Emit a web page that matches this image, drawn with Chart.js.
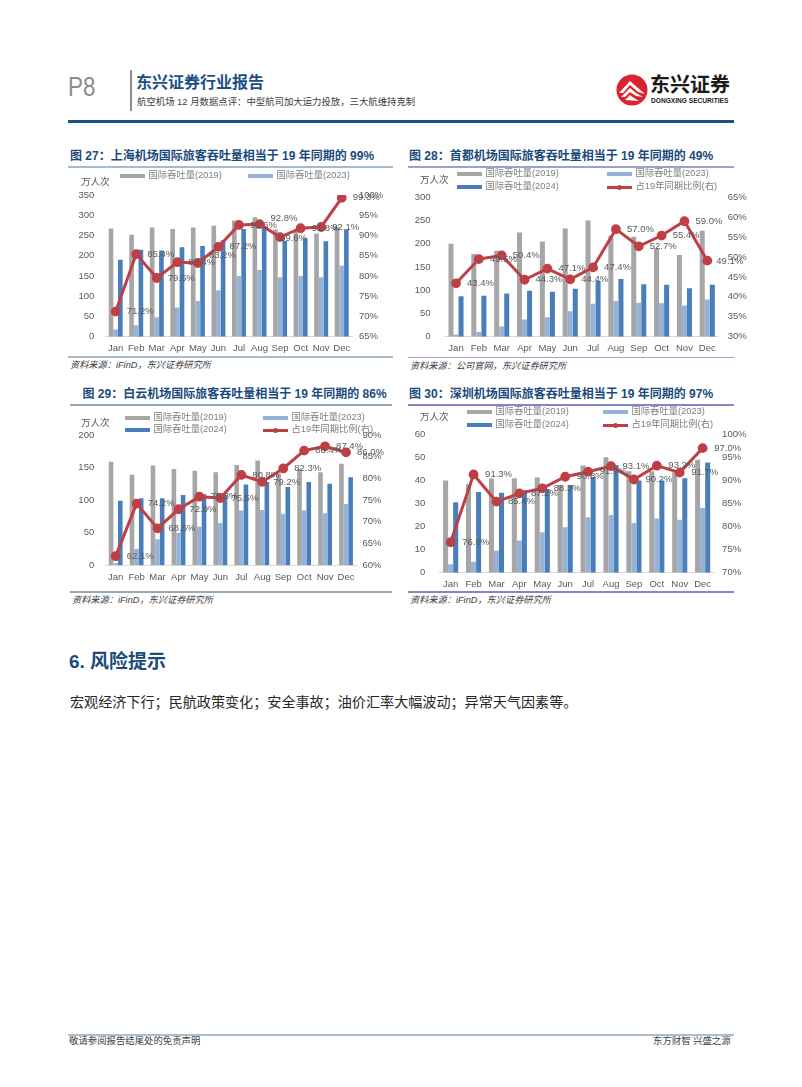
<!DOCTYPE html>
<html lang="zh">
<head>
<meta charset="utf-8">
<title>P8</title>
<script src="https://cdn.jsdelivr.net/npm/chart.js@4"></script>
<style>
  html, body { margin: 0; padding: 0; background: #fff; }
  #page { position: relative; width: 802px; height: 1087px; overflow: hidden;
          font-family: "Liberation Sans", "Noto Sans CJK SC", sans-serif; }
  #page > * { position: absolute; }
  .txt { white-space: pre; line-height: 1; transform: translateY(-50%); }
  .figTitle { font-size: 12px; font-weight: bold; color: #1b4a7d; }
  .source { font-size: 9.2px; font-style: italic; color: #404040; }
  .legend { font-size: 9.3px; color: #7f7f7f; }
  .unit { font-size: 9.5px; color: #595959; }
</style>
</head>
<body>
<div id="page"></div>
<script>
// 1. Shared labels
const months = ['Jan', 'Feb', 'Mar', 'Apr', 'May', 'Jun', 'Jul', 'Aug', 'Sep', 'Oct', 'Nov', 'Dec'];
const legendNames = ['国际吞吐量(2019)', '国际吞吐量(2023)', '国际吞吐量(2024)', '占19年同期比例(右)'];

// 2. Values
// Shanghai
const sh2019 = [267, 252, 270, 266, 270, 274, 287, 295, 265, 260, 255, 270];
const sh2023 = [18, 28, 48, 72, 88, 115, 150, 165, 147, 150, 147, 175];
const sh2024 = [190, 215, 213, 221, 224, 238, 266, 273, 237, 243, 236, 265];
const shRatio = [71.2, 85.4, 79.5, 83.4, 83.2, 87.2, 92.6, 92.8, 89.6, 91.8, 92.1, 99.3];
// Beijing Capital
const bj2019 = [200, 178, 185, 224, 205, 233, 250, 217, 215, 190, 176, 228];
const bj2023 = [5, 10, 22, 37, 42, 55, 71, 77, 73, 72, 67, 80];
const bj2024 = [87, 88, 93, 99, 97, 103, 120, 124, 113, 112, 104, 112];
const bjRatio = [43.4, 49.5, 50.4, 44.3, 47.1, 44.4, 47.4, 57.0, 52.7, 55.4, 59.0, 49.1];
// Guangzhou Baiyun
const gz2019 = [159, 139, 153, 148, 145, 143, 154, 161, 141, 148, 143, 156];
const gz2023 = [3, 25, 40, 50, 59, 65, 84, 85, 79, 84, 80, 94];
const gz2024 = [99, 103, 103, 108, 109, 108, 124, 128, 120, 128, 125, 135];
const gzRatio = [62.1, 74.2, 68.5, 72.9, 75.8, 75.5, 80.8, 79.2, 82.3, 86.4, 87.4, 86.0];
// Shenzhen
const sz2019 = [40, 38.5, 40.8, 41, 41.3, 38, 46.5, 50, 44, 44, 43.5, 49];
const sz2023 = [3.7, 4.8, 9.5, 14, 17.5, 19.7, 24, 25, 21.5, 23.5, 23, 28];
const sz2024 = [30.5, 35, 34.7, 35.7, 36.3, 38, 41.5, 46.7, 40, 40, 41, 47.8];
const szRatio = [76.6, 91.3, 85.4, 87.2, 88.3, 90.8, 91.9, 93.1, 90.2, 93.2, 91.7, 97.0];

// 3. Colours
const GREY = '#a6a6a6', LIGHT = '#95b3d7', BLUE = '#4a7ebb', RED = '#bf3f46', TICK = '#595959';
const TICK_FONT = { size: 9.5, family: 'Liberation Sans' };
const page = document.getElementById('page');

function addText(text, x, y, cls, style) {
    const el = document.createElement('div');
    el.className = 'txt ' + (cls || '');
    el.textContent = text;
    el.style.left = x + 'px';
    el.style.top = y + 'px';
    Object.assign(el.style, style || {});
    page.appendChild(el);
    return el;
}

function addBox(x, y, w, h, color) {
    const el = document.createElement('div');
    el.style.cssText = `left:${x}px;top:${y}px;width:${w}px;height:${h}px;background:${color}`;
    page.appendChild(el);
    return el;
}

// 4. Labels sit right of each point, a few were moved by hand in the source chart
const pointLabels = {
    id: 'pointLabels',
    afterDatasetsDraw(chart, args, opts) {
        const ctx = chart.ctx;
        const lineIndex = chart.data.datasets.findIndex(d => d.type === 'line');
        const meta = chart.getDatasetMeta(lineIndex);
        const values = chart.data.datasets[lineIndex].data;
        ctx.save();
        ctx.font = '9.5px "Liberation Sans"';
        ctx.fillStyle = TICK;
        ctx.textAlign = 'center';
        ctx.textBaseline = 'middle';
        meta.data.forEach((pt, i) => {
            const nudge = (opts.nudge || {})[i] || [0, 0];
            ctx.fillText(values[i].toFixed(1) + '%', pt.x + opts.dx + nudge[0], pt.y + nudge[1]);
        });
        ctx.restore();
    }
};

function drawFigure(fig) {
    const cv = document.createElement('canvas');
    const box = fig.canvas, plot = fig.plot;
    cv.width = box.w;
    cv.height = box.h;
    cv.style.left = box.x + 'px';
    cv.style.top = box.y + 'px';
    page.appendChild(cv);

    // Pin the plot area: scale sizes are fixed and the label overhang is dropped
    const pin = size => s => {
        Object.assign(s, size);
        s.paddingTop = s.paddingBottom = s.paddingLeft = s.paddingRight = 0;
    };

    new Chart(cv, {
        data: {
            labels: months,
            datasets: [
                { type: 'line', data: fig.ratio, yAxisID: 'y1', order: 0, borderColor: RED, backgroundColor: RED,
                  borderWidth: 3, pointRadius: 3.4, pointBackgroundColor: RED, pointBorderColor: RED, tension: 0 },
                { type: 'bar', data: fig.y2019, yAxisID: 'y', order: 1, backgroundColor: GREY },
                { type: 'bar', data: fig.y2023, yAxisID: 'y', order: 2, backgroundColor: LIGHT },
                { type: 'bar', data: fig.y2024, yAxisID: 'y', order: 3, backgroundColor: BLUE }
            ]
        },
        options: {
            responsive: false,
            animation: false,
            layout: { padding: { top: plot.top - box.y, left: 0, right: 0, bottom: 0 } },
            datasets: { bar: { barPercentage: 1, categoryPercentage: fig.catPct } },
            plugins: {
                legend: { display: false },
                tooltip: { enabled: false },
                pointLabels: { dx: fig.labelDx, nudge: fig.nudge }
            },
            scales: {
                x: {
                    grid: { display: false, drawTicks: false },
                    border: { color: '#d9d9d9' },
                    ticks: { color: TICK, font: TICK_FONT, padding: 6, maxRotation: 0, autoSkip: false },
                    afterFit: pin({ height: box.y + box.h - plot.bottom })
                },
                y: {
                    position: 'left',
                    min: 0, max: fig.leftMax,
                    ticks: { stepSize: fig.leftStep, color: TICK, padding: fig.leftPad, font: TICK_FONT },
                    grid: { display: false, drawTicks: false },
                    border: { display: false },
                    afterFit: pin({ width: plot.left - box.x })
                },
                y1: {
                    position: 'right',
                    min: fig.rightMin, max: fig.rightMax,
                    ticks: { stepSize: 5, color: TICK, padding: fig.rightPad, font: TICK_FONT, callback: v => v + '%' },
                    grid: { display: false, drawTicks: false },
                    border: { display: false },
                    afterFit: pin({ width: box.x + box.w - plot.right })
                }
            }
        },
        plugins: [pointLabels]
    });

    // title, rules, source line
    addText(fig.title, fig.titleX, fig.titleY, 'figTitle');
    addBox(fig.ruleX, fig.ruleTop, fig.ruleW, 1.5, fig.ruleColor);
    addBox(fig.ruleX, fig.ruleBottom, fig.ruleW, 1.5, fig.ruleColor);
    addText(fig.source, fig.ruleX + 2, fig.ruleBottom + 10, 'source');
    addText('万人次', fig.unitX, fig.unitY, 'unit');

    // legend laid out like the source: two columns
    fig.legend.forEach(item => {
        const idx = item[0], x = item[1], y = item[2];
        if (idx === 3) {
            addBox(x, y - 1.5, 25, 3, RED);
            const dot = addBox(x + 10, y - 2.5, 5, 5, RED);
            dot.style.borderRadius = '50%';
        } else {
            addBox(x, y - 2, 25, 4, [GREY, LIGHT, BLUE][idx]);
        }
        addText(legendNames[idx], x + 28.5, y, 'legend');
    });
}

drawFigure({
    title: '图 27：上海机场国际旅客吞吐量相当于 19 年同期的 99%', titleX: 70, titleY: 156,
    source: '资料来源：iFinD，东兴证券研究所',
    ruleX: 68, ruleW: 325, ruleTop: 166, ruleBottom: 356, ruleColor: '#a6bccd',
    unitX: 81, unitY: 182,
    canvas: { x: 68, y: 185, w: 332, h: 170 },
    plot: { left: 105.4, right: 352, top: 195, bottom: 336.7 },
    catPct: 0.68, leftPad: 11, rightPad: 7, labelDx: 24.5,
    leftMax: 350, leftStep: 50, rightMin: 65, rightMax: 100,
    nudge: { 4: [0, -8], 7: [0, -6], 8: [-11, 1] },
    legend: [[0, 120, 176], [1, 248, 176]],
    y2019: sh2019, y2023: sh2023, y2024: sh2024, ratio: shRatio
});

drawFigure({
    title: '图 28：首都机场国际旅客吞吐量相当于 19 年同期的 49%', titleX: 409, titleY: 156,
    source: '资料来源：公司官网，东兴证券研究所',
    ruleX: 408, ruleW: 326, ruleTop: 166, ruleBottom: 356.5, ruleColor: '#9aa3cf',
    unitX: 420, unitY: 180,
    canvas: { x: 408, y: 190, w: 352, h: 165 },
    plot: { left: 444.6, right: 718.7, top: 197.3, bottom: 336.7 },
    catPct: 0.66, leftPad: 14, rightPad: 9, labelDx: 24.5,
    leftMax: 300, leftStep: 50, rightMin: 30, rightMax: 65,
    nudge: { 11: [-2, 1] },
    legend: [[0, 457, 174], [1, 607, 174], [2, 457, 187], [3, 607, 187]],
    y2019: bj2019, y2023: bj2023, y2024: bj2024, ratio: bjRatio
});

drawFigure({
    title: '图 29：白云机场国际旅客吞吐量相当于 19 年同期的 86%', titleX: 82.5, titleY: 394,
    source: '资料来源：iFinD，东兴证券研究所',
    ruleX: 70, ruleW: 322, ruleTop: 404, ruleBottom: 591, ruleColor: '#8faabf',
    unitX: 81, unitY: 423,
    canvas: { x: 68, y: 425, w: 332, h: 165 },
    plot: { left: 105.2, right: 356.5, top: 435, bottom: 565.3 },
    catPct: 0.66, leftPad: 11, rightPad: 6, labelDx: 24.5,
    leftMax: 200, leftStep: 50, rightMin: 60, rightMax: 90,
    legend: [[0, 125, 418], [1, 263, 418], [2, 125, 430], [3, 263, 430]],
    y2019: gz2019, y2023: gz2023, y2024: gz2024, ratio: gzRatio
});

drawFigure({
    title: '图 30：深圳机场国际旅客吞吐量相当于 19 年同期的 97%', titleX: 409, titleY: 394,
    source: '资料来源：iFinD，东兴证券研究所',
    ruleX: 408, ruleW: 326, ruleTop: 404, ruleBottom: 591, ruleColor: '#8289c2',
    unitX: 420, unitY: 417,
    canvas: { x: 408, y: 425, w: 352, h: 165 },
    plot: { left: 439.2, right: 714.1, top: 434.3, bottom: 572.7 },
    catPct: 0.66, leftPad: 14, rightPad: 8, labelDx: 25,
    leftMax: 60, leftStep: 10, rightMin: 70, rightMax: 100,
    legend: [[0, 467, 412], [1, 603, 412], [2, 467, 425], [3, 603, 425]],
    y2019: sz2019, y2023: sz2023, y2024: sz2024, ratio: szRatio
});

// 5. Page furniture
addText('P8', 68, 87, '', { fontSize: '28px', color: '#8c8c8c', transform: 'translateY(-50%) scaleX(.8)', transformOrigin: 'left center' });
addBox(130, 70, 2, 41, '#8c8c8c');
addText('东兴证券行业报告', 136, 83, '', { fontSize: '16px', fontWeight: 'bold', color: '#1c4f87' });
addText('航空机场 12 月数据点评：中型航司加大运力投放，三大航维持克制', 137, 102, '', { fontSize: '9.4px', color: '#404040' });
addBox(68, 120, 666, 3, '#1f4e85');
addText('6. 风险提示', 69, 661, '', { fontSize: '19px', fontWeight: 'bold', color: '#1b4a7d' });
addText('宏观经济下行；民航政策变化；安全事故；油价汇率大幅波动；异常天气因素等。', 70, 702, '', { fontSize: '14.1px', color: '#262626' });
addBox(68, 1034, 666, 1.5, '#a9bfd0');
addText('敬请参阅报告结尾处的免责声明', 69, 1041, '', { fontSize: '9.4px', color: '#404040' });
addText('东方财智 兴盛之源', 653, 1041, '', { fontSize: '9.4px', color: '#404040' });

// logo
const logo = document.createElement('div');
logo.style.cssText = 'left:616px;top:74px;width:32px;height:32px';
logo.innerHTML = '<svg width="32" height="32" viewBox="0 0 32 32">' +
    '<circle cx="16" cy="16" r="15.5" fill="#d9232e"/>' +
    '<path d="M3 19 L14 7 L22 14 L29 20 L22 18 L14 11 L7 19 Z" fill="#fff"/>' +
    '<path d="M5 23 L14 14 L20 19 L27 23 L20 22 L14 18 L9 23 Z" fill="#fff"/>' +
    '<path d="M9 26 L14 21 L18 24 L23 27 Z" fill="#fff"/></svg>';
page.appendChild(logo);
addText('东兴证券', 650, 85, '', { fontSize: '20px', fontWeight: 'bold', color: '#1a1a1a' });
addText('DONGXING SECURITIES', 651, 100.5, '', { fontSize: '6.6px', fontWeight: 'bold', color: '#1a1a1a' });
</script>
</body>
</html>
